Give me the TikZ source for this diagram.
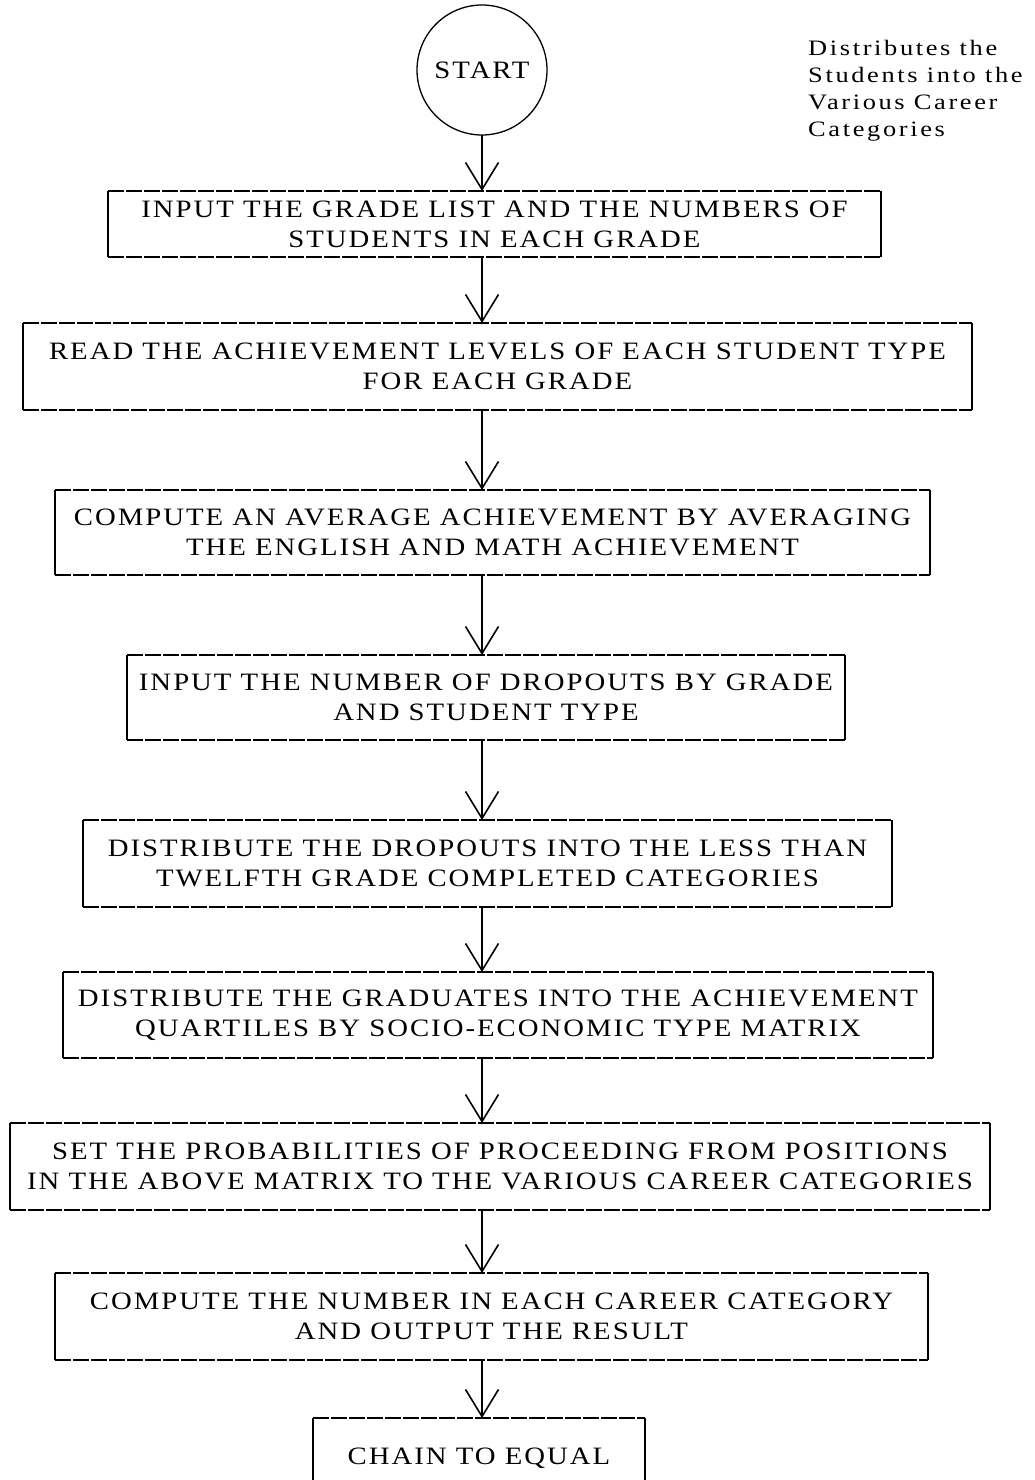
\documentclass[tikz,border=0pt]{standalone}
\usepackage{fontspec}
\setmainfont{Liberation Serif}
\newfontfamily\boxfont[FakeStretch=1.15,LetterSpace=8]{Liberation Serif}
\newfontfamily\notefont[FakeStretch=1.2,LetterSpace=12]{Liberation Serif}
\usetikzlibrary{arrows.meta}
\begin{document}
\begin{tikzpicture}[x=1pt,y=-1pt,
  box/.style={inner sep=0pt, outer sep=0pt, align=center, font=\boxfont\fontsize{25}{30}\selectfont},
  hedge/.style={line width=1.2pt, dash pattern=on 16pt off 2pt},
  vedge/.style={line width=1.4pt},
  flow/.style={line width=1.6pt, -{Straight Barb[length=27pt,width=33pt,line width=1.6pt]}},
  note/.style={align=left, anchor=west, inner sep=0pt, font=\notefont\fontsize{22}{27}\selectfont}]
\useasboundingbox (0,0) rectangle (1035,1480);
\clip (0,0) rectangle (1035,1480);
\fill[white] (0,0) rectangle (1035,1480);

\node[circle, draw, line width=1.3pt, minimum size=130pt, inner sep=0pt, outer sep=0pt,
      font=\boxfont\fontsize{25}{30}\selectfont] (start) at (482,70) {START};
\node[note] (note) at (808,91) {Distributes the\\Students into the\\Various Career\\Categories};

\coordinate (ax) at (482,0);

\node[box, minimum width=773pt, minimum height=66pt] (b1) at (494.5,224)
  {INPUT THE GRADE LIST AND THE NUMBERS OF\\STUDENTS IN EACH GRADE};
\node[box, minimum width=949pt, minimum height=87pt] (b2) at (497.5,366.5)
  {READ THE ACHIEVEMENT LEVELS OF EACH STUDENT TYPE\\FOR EACH GRADE};
\node[box, minimum width=875pt, minimum height=85pt] (b3) at (492.5,532.5)
  {COMPUTE AN AVERAGE ACHIEVEMENT BY AVERAGING\\THE ENGLISH AND MATH ACHIEVEMENT};
\node[box, minimum width=718pt, minimum height=85pt] (b4) at (486,697.5)
  {INPUT THE NUMBER OF DROPOUTS BY GRADE\\AND STUDENT TYPE};
\node[box, minimum width=809pt, minimum height=87pt] (b5) at (487.5,863.5)
  {DISTRIBUTE THE DROPOUTS INTO THE LESS THAN\\TWELFTH GRADE COMPLETED CATEGORIES};
\node[box, minimum width=870pt, minimum height=86pt] (b6) at (498,1015)
  {DISTRIBUTE THE GRADUATES INTO THE ACHIEVEMENT\\QUARTILES BY SOCIO-ECONOMIC TYPE MATRIX};
\node[box, minimum width=980pt, minimum height=87pt] (b7) at (500,1166.5)
  {SET THE PROBABILITIES OF PROCEEDING FROM POSITIONS\\IN THE ABOVE MATRIX TO THE VARIOUS CAREER CATEGORIES};
\node[box, minimum width=873pt, minimum height=87pt] (b8) at (491.5,1316.5)
  {COMPUTE THE NUMBER IN EACH CAREER CATEGORY\\AND OUTPUT THE RESULT};
\node[box, minimum width=332pt, minimum height=80pt] (b9) at (479,1458)
  {CHAIN TO EQUAL};

\foreach \n in {b1,b2,b3,b4,b5,b6,b7,b8}{
  \draw[hedge] (\n.north west) -- (\n.north east);
  \draw[hedge] (\n.south west) -- (\n.south east);
  \draw[vedge] (\n.north west) -- (\n.south west);
  \draw[vedge] (\n.north east) -- (\n.south east);
}
\draw[hedge] (b9.north west) -- (b9.north east);
\draw[vedge] (b9.north west) -- (b9.south west);
\draw[vedge] (b9.north east) -- (b9.south east);

\draw[flow] (start.south) -- (start.south |- b1.north);
\draw[flow] (b1.south -| ax) -- (b2.north -| ax);
\draw[flow] (b2.south -| ax) -- (b3.north -| ax);
\draw[flow] (b3.south -| ax) -- (b4.north -| ax);
\draw[flow] (b4.south -| ax) -- (b5.north -| ax);
\draw[flow] (b5.south -| ax) -- (b6.north -| ax);
\draw[flow] (b6.south -| ax) -- (b7.north -| ax);
\draw[flow] (b7.south -| ax) -- (b8.north -| ax);
\draw[flow] (b8.south -| ax) -- (b9.north -| ax);
\end{tikzpicture}
\end{document}
